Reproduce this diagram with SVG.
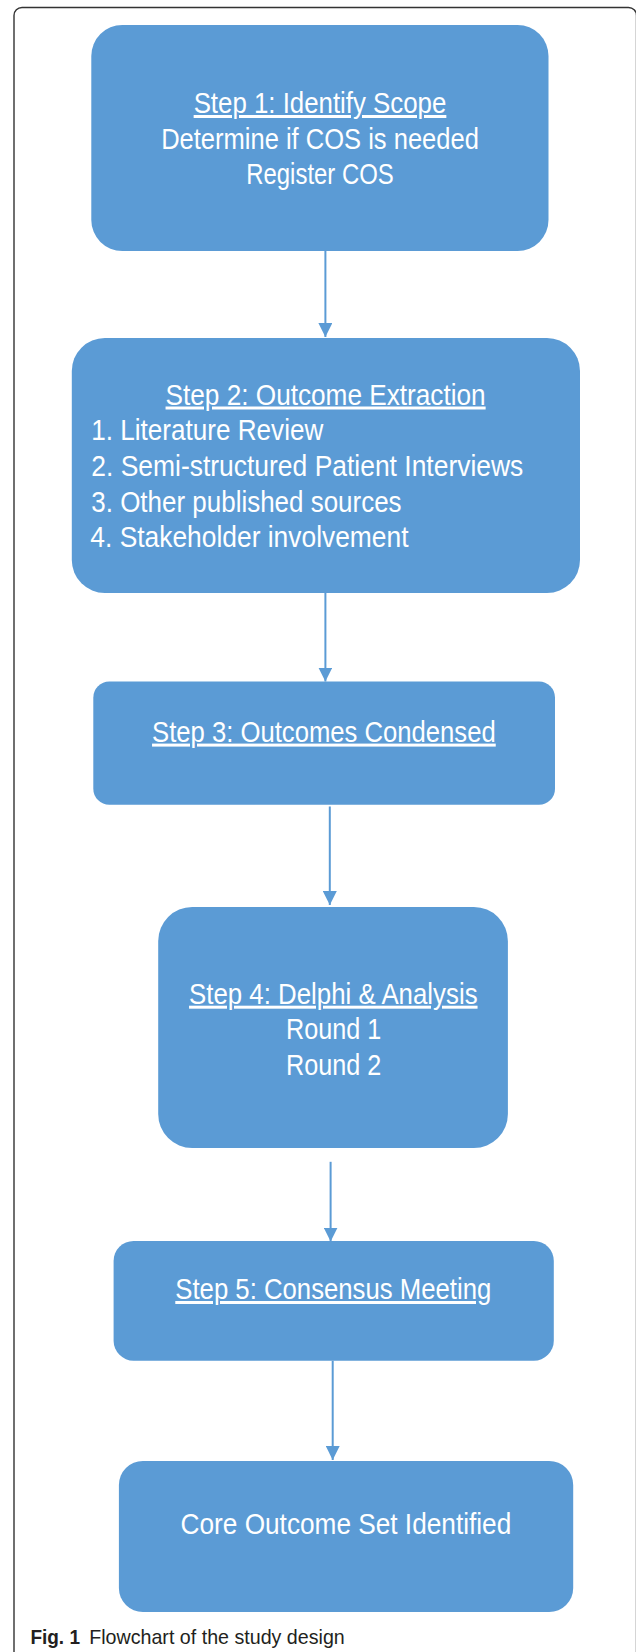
<svg xmlns="http://www.w3.org/2000/svg" width="636" height="1652" viewBox="0 0 636 1652">
<style>
.box{fill:#5B9BD5;}
.t{font-family:"Liberation Sans",Arial,sans-serif;font-size:30px;fill:#FFFFFF;}
.c{text-anchor:middle;}
.u{text-decoration:underline;}
.conn{stroke:#5B9BD5;stroke-width:2;fill:none;}
.cap{font-family:"Liberation Sans",Arial,sans-serif;font-size:21px;fill:#231F20;}
</style>
<defs>
<marker id="ah" viewBox="0 0 10 10" refX="10" refY="5" markerWidth="14" markerHeight="14" markerUnits="userSpaceOnUse" orient="auto">
<path d="M0,0 L10,5 L0,10 z" fill="#5B9BD5"/>
</marker>
</defs>
<rect width="636" height="1652" fill="#FFFFFF"/>
<path d="M14,1660 V15.5 A8,8 0 0 1 22,7.5 H628.5 A8,8 0 0 1 636.5,15.5 V1660" fill="none" stroke="#333333" stroke-width="1.4"/>

<g id="connectors">
<line class="conn" x1="325.4" y1="251" x2="325.4" y2="337" marker-end="url(#ah)"/>
<line class="conn" x1="325.4" y1="593" x2="325.4" y2="681.5" marker-end="url(#ah)"/>
<line class="conn" x1="329.8" y1="806.5" x2="329.8" y2="905" marker-end="url(#ah)"/>
<line class="conn" x1="330.6" y1="1161.8" x2="330.6" y2="1241.5" marker-end="url(#ah)"/>
<line class="conn" x1="332.7" y1="1360.7" x2="332.7" y2="1460" marker-end="url(#ah)"/>
</g>

<g id="step1">
<rect class="box" x="91.3" y="25" width="457.2" height="226" rx="31" ry="31"/>
<text class="t c u" x="320" y="113" textLength="252.7" lengthAdjust="spacingAndGlyphs">Step 1: Identify Scope</text>
<text class="t c" x="320" y="148.5" textLength="317.7" lengthAdjust="spacingAndGlyphs">Determine if COS is needed</text>
<text class="t c" x="320" y="183.8" textLength="147.5" lengthAdjust="spacingAndGlyphs">Register COS</text>
</g>

<g id="step2">
<rect class="box" x="71.8" y="338" width="508.2" height="255" rx="33" ry="33"/>
<text class="t c u" x="325.6" y="404.5" textLength="320.1" lengthAdjust="spacingAndGlyphs">Step 2: Outcome Extraction</text>
<text class="t" x="91.3" y="440.1" textLength="232" lengthAdjust="spacingAndGlyphs">1. Literature Review</text>
<text class="t" x="91.3" y="475.9" textLength="432" lengthAdjust="spacingAndGlyphs">2. Semi-structured Patient Interviews</text>
<text class="t" x="91.3" y="511.7" textLength="310.3" lengthAdjust="spacingAndGlyphs">3. Other published sources</text>
<text class="t" x="90.3" y="547.3" textLength="318.2" lengthAdjust="spacingAndGlyphs">4. Stakeholder involvement</text>
</g>

<g id="step3">
<rect class="box" x="93.3" y="681.5" width="461.7" height="123.2" rx="16" ry="16"/>
<text class="t c u" x="323.9" y="741.6" textLength="343.7" lengthAdjust="spacingAndGlyphs">Step 3: Outcomes Condensed</text>
</g>

<g id="step4">
<rect class="box" x="158.2" y="907" width="349.7" height="241" rx="34" ry="34"/>
<text class="t c u" x="333.3" y="1003.7" textLength="288.5" lengthAdjust="spacingAndGlyphs">Step 4: Delphi &amp; Analysis</text>
<text class="t c" x="333.7" y="1039.3" textLength="95.3" lengthAdjust="spacingAndGlyphs">Round 1</text>
<text class="t c" x="333.7" y="1075.3" textLength="95.3" lengthAdjust="spacingAndGlyphs">Round 2</text>
</g>

<g id="step5">
<rect class="box" x="113.6" y="1241" width="440.2" height="119.7" rx="20" ry="20"/>
<text class="t c u" x="333.3" y="1299" textLength="316" lengthAdjust="spacingAndGlyphs">Step 5: Consensus Meeting</text>
</g>

<g id="core">
<rect class="box" x="118.9" y="1461" width="454.3" height="151" rx="24" ry="24"/>
<text class="t c" x="345.9" y="1534.3" textLength="330.7" lengthAdjust="spacingAndGlyphs">Core Outcome Set Identified</text>
</g>

<text class="cap" x="30.4" y="1644"><tspan font-weight="bold" textLength="49.6" lengthAdjust="spacingAndGlyphs">Fig. 1</tspan><tspan x="89.2" textLength="255.6" lengthAdjust="spacingAndGlyphs">Flowchart of the study design</tspan></text>
</svg>
